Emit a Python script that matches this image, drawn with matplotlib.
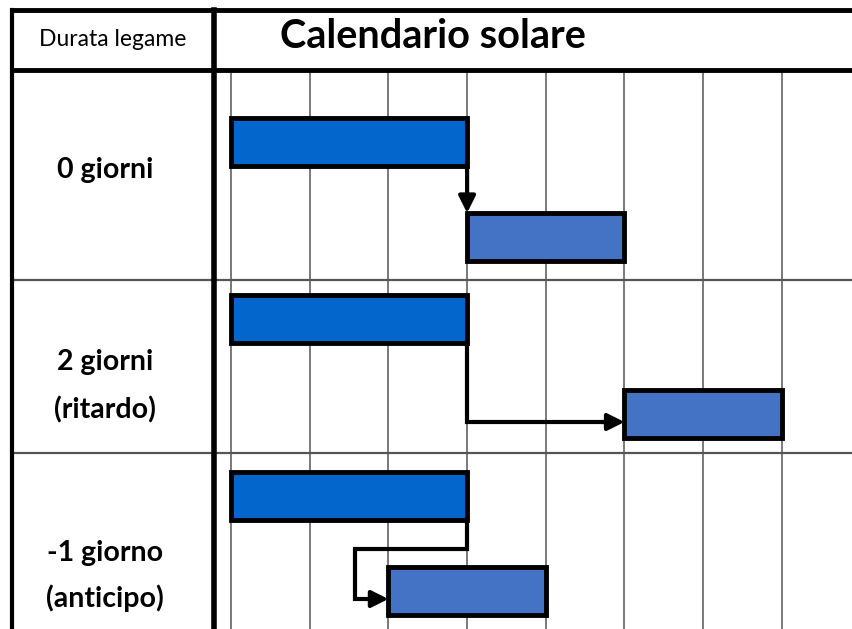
import matplotlib.pyplot as plt
import numpy as np

# rows of the table: lag label and the lag in days between the two tasks
row_labels = [["0 giorni"], ["2 giorni", "(ritardo)"], ["-1 giorno", "(anticipo)"]]
lags = [0, 2, -1]
pred_start = [0, 0, 0]
pred_dur = [3, 3, 3]
succ_dur = [2, 2, 2]
n_days = 8

title = "Calendario solare"
head_label = "Durata legame"

# layout (pixels of the 852x629 picture)
W, H = 852, 629
day_w = 78.7
x0 = 231
row_tops = [70, 280, 453]
pred_y = [118, 295, 472]
succ_y = [213, 390, 567]
label_y = [[170], [362, 410], [553, 598]]
bar_h = 48
c_pred = "#0366CC"
c_succ = "#4472C4"

plt.rcParams['font.family'] = ['Lato', 'DejaVu Sans']

fig = plt.figure(figsize=(W / 100, H / 100), dpi=100)
ax = fig.add_axes([0, 0, 1, 1])
ax.set_xlim(-x0 / day_w, (W - x0) / day_w)
ax.set_ylim(H, 0)
ax.axis("off")

def px(x):
    return (x - x0) / day_w

# grid of days
for d in range(n_days):
    ax.plot([d, d], [70, H], color="#555555", lw=1.1, zorder=1)

# row separators
for y in row_tops[1:]:
    ax.plot([px(12), px(W)], [y, y], color="#555555", lw=1.6, zorder=1)

# frame
ax.plot([px(12), px(W)], [10, 10], color="black", lw=3.5, zorder=5)
ax.plot([px(12), px(W)], [70, 70], color="black", lw=3.5, zorder=5)
ax.plot([px(12), px(12)], [10, H], color="black", lw=3, zorder=5)
ax.plot([px(214), px(214)], [10, H], color="black", lw=4, zorder=5)

ax.text(px(113), 40, head_label, ha="center", va="center", fontsize=16.5)
ax.text(px(433), 37, title, ha="center", va="center", fontsize=28.5, fontweight="bold")

for i, lines in enumerate(row_labels):
    for lab, y in zip(lines, label_y[i]):
        ax.text(px(105), y, lab, ha="center", va="center", fontsize=20.5,
                fontweight="bold")

for i in range(len(lags)):
    s0, d0 = pred_start[i], pred_dur[i]
    s1 = s0 + d0 + lags[i]
    ax.barh(pred_y[i] + bar_h / 2, d0, left=s0, height=bar_h, color=c_pred,
            edgecolor="black", linewidth=3.5, zorder=3)
    ax.barh(succ_y[i] + bar_h / 2, succ_dur[i], left=s1, height=bar_h, color=c_succ,
            edgecolor="black", linewidth=3.5, zorder=3)
    end = s0 + d0
    ybot = pred_y[i] + bar_h
    ymid = succ_y[i] + bar_h / 2
    akw = dict(arrowstyle="-|>,head_length=1.0,head_width=0.5", color="black",
               lw=3, shrinkA=0, shrinkB=0)
    if lags[i] == 0:
        ax.annotate("", xy=(s1, succ_y[i]), xytext=(end, ybot), arrowprops=akw, zorder=4)
    elif lags[i] > 0:
        ax.plot([end, end, s1 - 0.2], [ybot, ymid + 8, ymid + 8], color="black",
                lw=3, zorder=4, solid_joinstyle="miter")
        ax.annotate("", xy=(s1, ymid + 8), xytext=(s1 - 0.3, ymid + 8), arrowprops=akw, zorder=4)
    else:
        xl = s1 - 0.43
        yc = (ybot + succ_y[i]) / 2 + 5
        ax.plot([end, end, xl, xl, s1 - 0.2], [ybot, yc, yc, ymid + 8, ymid + 8],
                color="black", lw=3, zorder=4, solid_joinstyle="miter")
        ax.annotate("", xy=(s1, ymid + 8), xytext=(s1 - 0.25, ymid + 8), arrowprops=akw, zorder=4)

fig.savefig("out.png", dpi=100)
